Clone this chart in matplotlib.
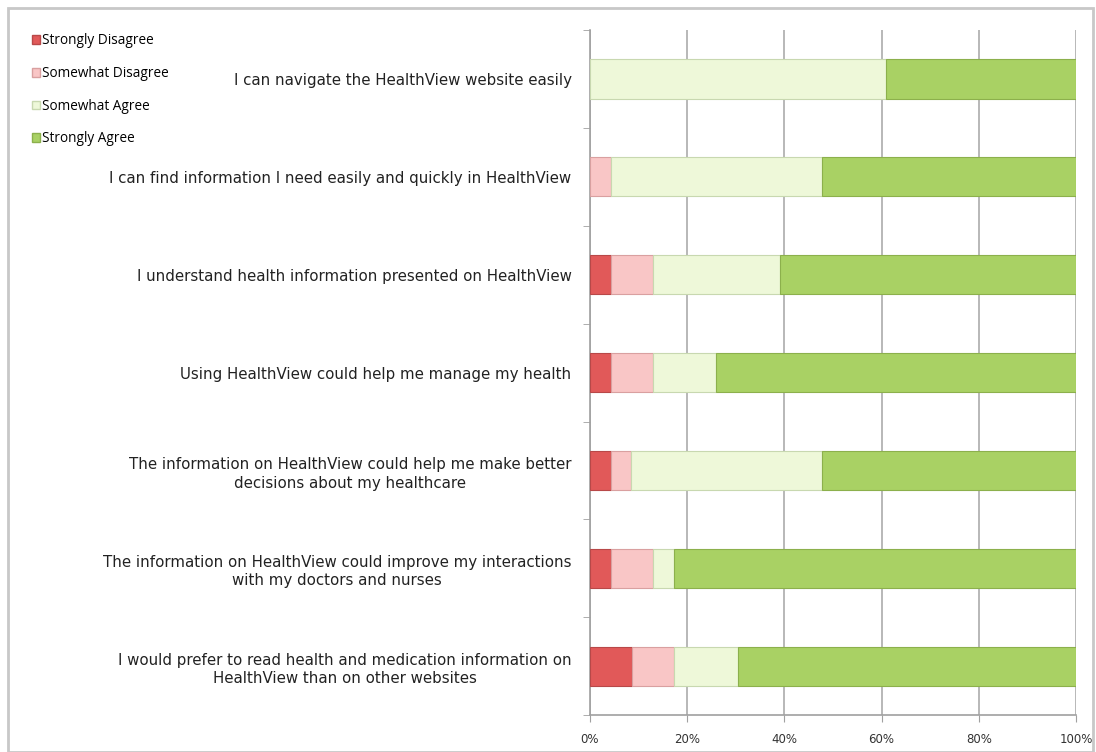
import matplotlib.pyplot as plt
import matplotlib.patches as mpatches
import numpy as np

# データ
statements = [
    'I can navigate the HealthView website easily',
    'I can find information I need easily and quickly in HealthView',
    'I understand health information presented on HealthView',
    'Using HealthView could help me manage my health',
    'The information on HealthView could help me make better\ndecisions about my healthcare',
    'The information on HealthView could improve my interactions\nwith my doctors and nurses',
    'I would prefer to read health and medication information on\nHealthView than on other websites',
]
strongly_disagree = [0.0, 0.0, 4.3, 4.3, 4.3, 4.3, 8.7]
somewhat_disagree = [0.0, 4.3, 8.7, 8.7, 4.3, 8.7, 8.7]
somewhat_agree = [60.9, 43.5, 26.1, 13.0, 39.1, 4.3, 13.0]
strongly_agree = [39.1, 52.2, 60.9, 73.9, 52.2, 82.6, 69.6]
series_names = ['Strongly Disagree', 'Somewhat Disagree', 'Somewhat Agree', 'Strongly Agree']
colors = ['#E15959', '#F9C6C6', '#EEF8D9', '#A9D164']
edges = ['#B84848', '#D9A0A0', '#C8D8B0', '#8CB04C']

fig = plt.figure(figsize=(10.96, 7.52), dpi=100)
ax = fig.add_axes([0.538, 0.049, 0.444, 0.911])

# 外枠
fig.patches.append(mpatches.Rectangle((0.007, 0.0), 0.99, 0.989, transform=fig.transFigure,
                                      fill=False, edgecolor='#C8C8C8', linewidth=2))

y = np.arange(len(statements))
left = np.zeros(len(statements))
handles = []
for vals, name, c, ec in zip([strongly_disagree, somewhat_disagree, somewhat_agree, strongly_agree],
                             series_names, colors, edges):
    ax.barh(y, vals, left=left, height=0.4, color=c, edgecolor=ec, linewidth=0.8, zorder=3)
    left += np.array(vals)
    handles.append(mpatches.Patch(facecolor=c, edgecolor=ec, label=name))

ax.set_xlim(0, 100)
ax.set_ylim(6.5, -0.5)
ax.set_xticks(np.arange(0, 101, 20))
ax.set_xticklabels([f'{v}%' for v in range(0, 101, 20)], fontsize=8.5, color='#333333')
ax.set_yticks(y)
ax.set_yticklabels(statements, fontsize=10.8, color='#222222', linespacing=1.3,
                   multialignment='center')
ax.tick_params(axis='y', length=0, pad=13)
ax.set_yticks(np.arange(-0.5, 7, 1), minor=True)
ax.tick_params(axis='y', which='minor', length=5, color='#A0A0A0')
ax.tick_params(axis='x', length=5, color='#A0A0A0', pad=8)
ax.grid(axis='x', color='#ABABAB', linewidth=1.2, zorder=0)
for s in ['top', 'right']:
    ax.spines[s].set_visible(False)
for s in ['left', 'bottom']:
    ax.spines[s].set_color('#A0A0A0')
    ax.spines[s].set_linewidth(1.2)

fig.legend(handles=handles, loc='upper left', bbox_to_anchor=(0.018, 0.972), frameon=False,
           prop={'family': 'Open Sans', 'size': 9.8}, handlelength=0.6, handleheight=0.6,
           handletextpad=0.15, labelspacing=1.3)

plt.savefig('out.png', dpi=100)
